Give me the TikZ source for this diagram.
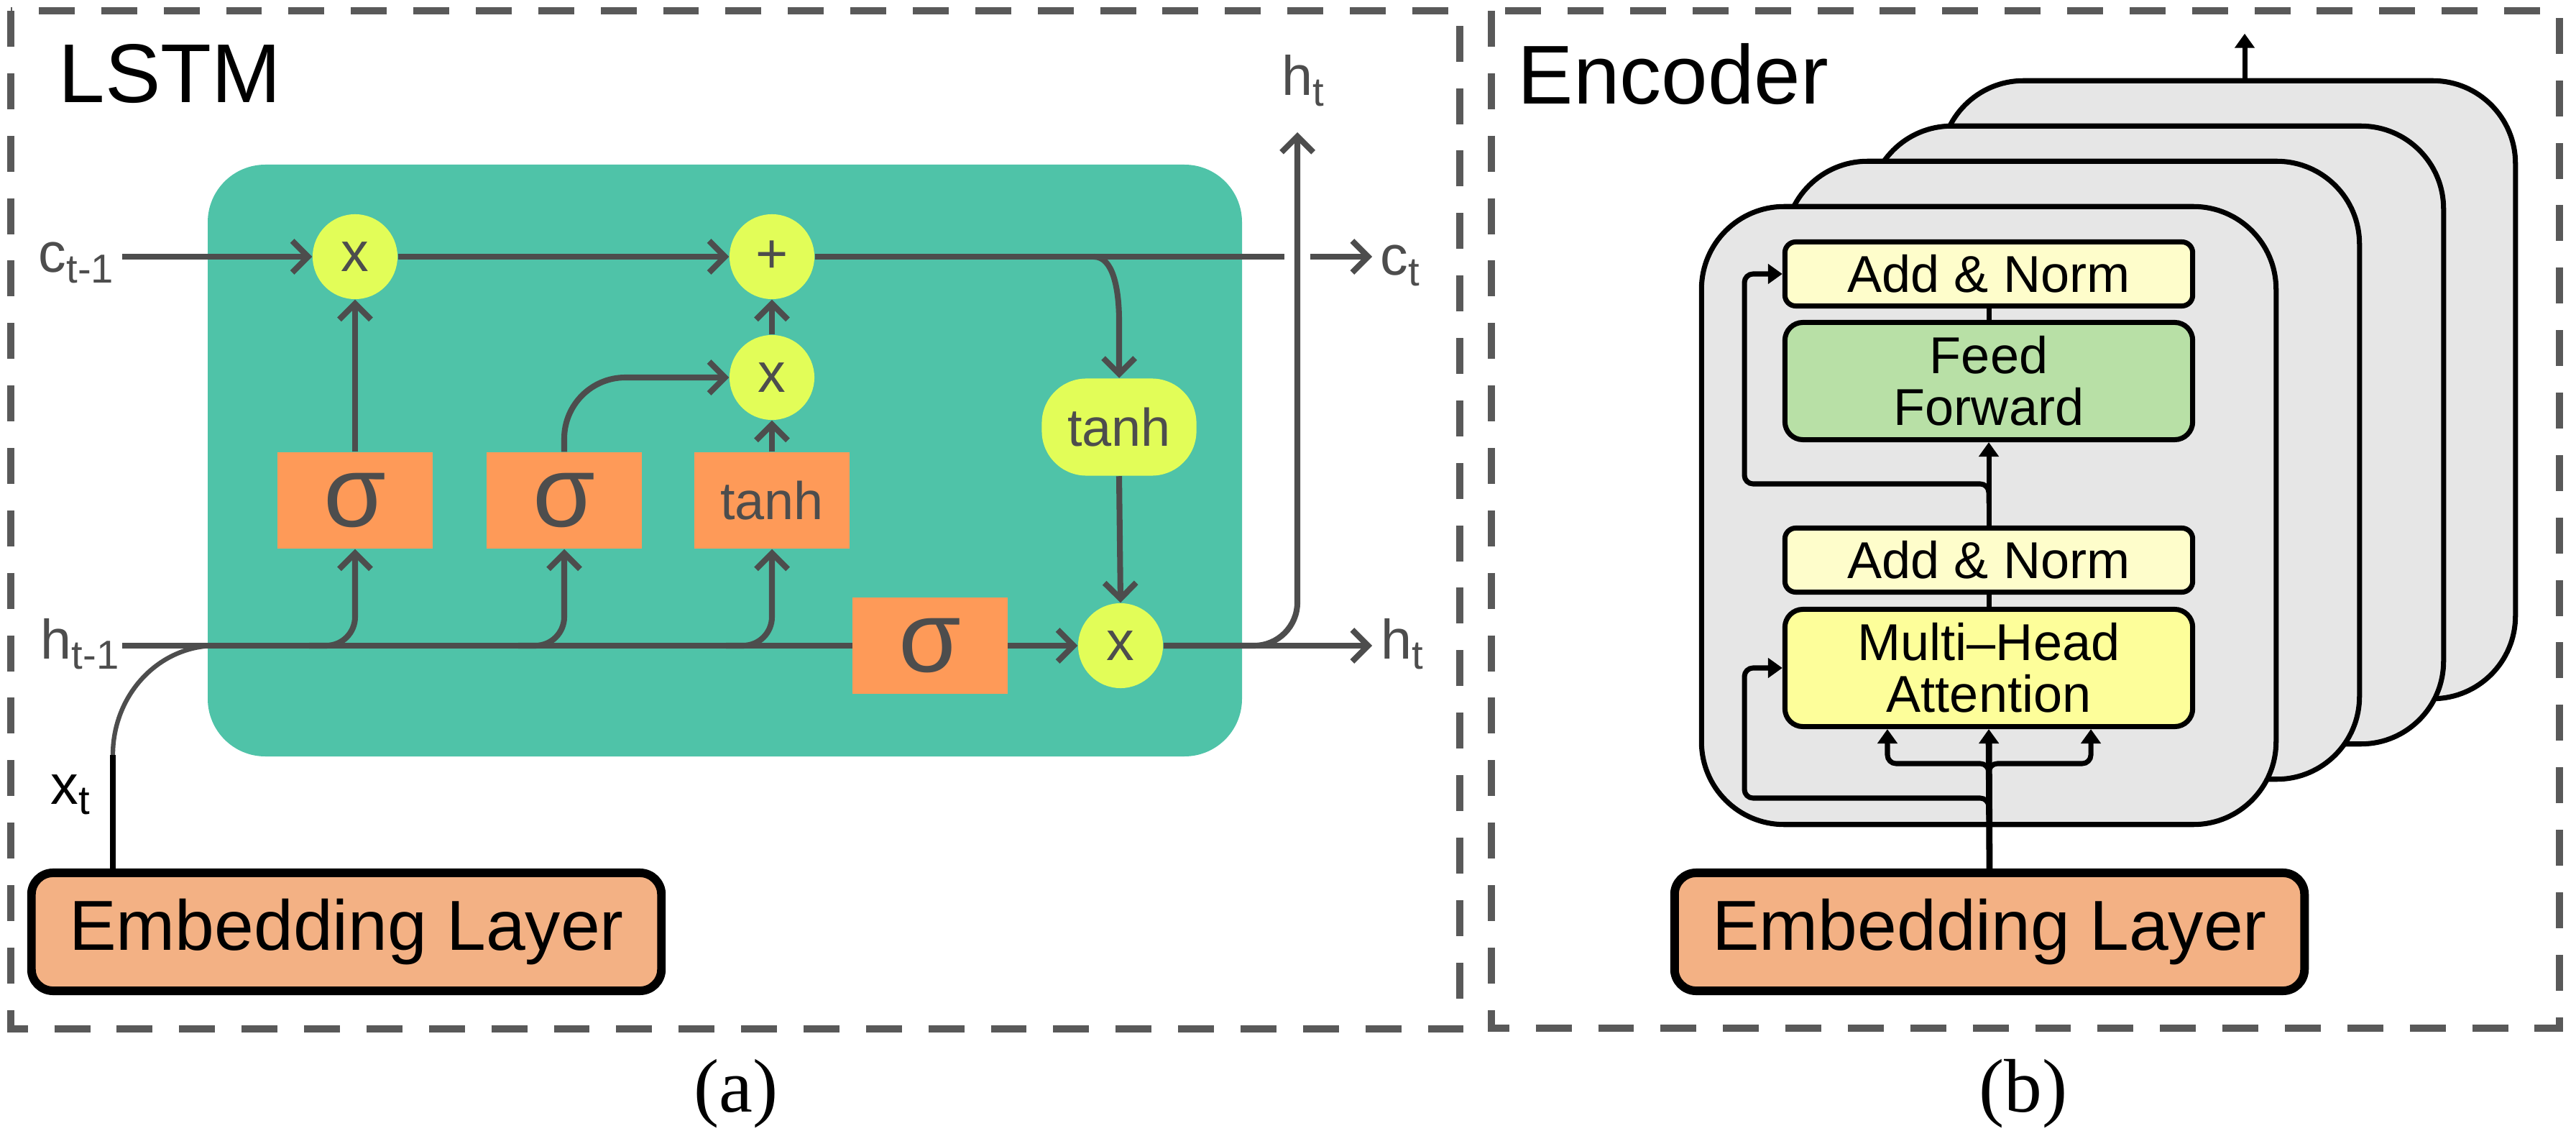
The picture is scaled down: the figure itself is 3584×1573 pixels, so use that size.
\documentclass[tikz,border=0pt]{standalone}
\usepackage{fontspec}
\setmainfont{Liberation Sans}
\newfontfamily\seriffont{Liberation Serif}
\usetikzlibrary{arrows.meta,calc}
\definecolor{teal1}{HTML}{4FC3A8}
\definecolor{orng}{HTML}{FE9A58}
\definecolor{lime}{HTML}{E2FD58}
\definecolor{lg}{HTML}{4D4D4D}
\definecolor{dashc}{HTML}{595959}
\definecolor{embc}{HTML}{F3B184}
\definecolor{encg}{HTML}{E6E6E6}
\definecolor{anc}{HTML}{FEFDCB}
\definecolor{ffc}{HTML}{B8E0A6}
\definecolor{mhac}{HTML}{FDFE9A}
\newcommand\mysub[1]{\raisebox{-4pt}{\fontsize{16}{16}\selectfont #1}}
\begin{document}
\begin{tikzpicture}[x=0.01cm,y=-0.01cm,
  panel/.style={draw=dashc, line width=2.6pt, dash pattern=on 14.2pt off 10.5pt},
  lline/.style={draw=lg, line width=2.3pt},
  barb/.style={-{Straight Barb[length=0.22cm,width=0.44cm]}},
  gate/.style={fill=orng, text=lg, minimum width=2.15cm, minimum height=1.34cm, inner sep=0},
  sig/.style={font=\fontsize{40}{40}\selectfont},
  th/.style={font=\fontsize{21}{21}\selectfont},
  op/.style={circle, fill=lime, text=lg, minimum size=1.18cm, inner sep=0, font=\fontsize{22}{22}\selectfont},
  lbl/.style={text=lg, inner sep=0, anchor=base west, font=\fontsize{22}{22}\selectfont},
  ttl/.style={inner sep=0, anchor=base west, font=\fontsize{33}{33}\selectfont},
  emb/.style={draw=black, line width=3.4pt, fill=embc, rounded corners=0.3cm, minimum width=8.76cm, minimum height=1.64cm, inner sep=0, font=\fontsize{28}{28}\selectfont},
  ebox/.style={draw=black, line width=2pt, fill=encg, rounded corners=1.15cm, minimum width=7.99cm, minimum height=8.59cm, inner sep=0},
  an/.style={draw=black, line width=2pt, fill=anc, rounded corners=0.15cm, minimum width=5.67cm, minimum height=0.89cm, inner sep=0, font=\fontsize{20.5}{20.5}\selectfont},
  big/.style={draw=black, line width=2pt, rounded corners=0.25cm, minimum width=5.67cm, minimum height=1.63cm, inner sep=0, align=center, font=\fontsize{20.5}{20.5}\selectfont},
  encl/.style={draw=black, line width=2pt},
  tri/.style={-{Triangle[length=0.2cm,width=0.27cm]}},
  capstyle/.style={anchor=base, inner sep=0, font=\seriffont\fontsize{30}{30}\selectfont}
]
\useasboundingbox (0,0) rectangle (3584,1573);
% panels
\draw[panel] (15,15) rectangle (2031,1431);
\draw[panel] (2075,15) rectangle (3561,1430);
\node[ttl] (tlstm) at (81,143) {LSTM};
\node[ttl] (tenc) at (2111,145) {Encoder};
\node[capstyle] (capa) at (1024,1546) {(a)};
\node[capstyle] (capb) at (2815,1546) {(b)};

% ---------------- LSTM ----------------
\fill[teal1, rounded corners=0.8cm] (289,229) rectangle (1728,1052);
\node[op] (x1) at (494,357) {x};
\node[op] (pl) at (1074,357) {+};
\node[op] (x2) at (1074,525) {x};
\node[op] (x3) at (1559,898) {x};
\node[gate,sig] (s1) at (494,696) {σ};
\node[gate,sig] (s2) at (785,696) {σ};
\node[gate,th] (tb) at (1074,696) {tanh};
\node[gate,sig] (s3) at (1294,898) {σ};
\node[fill=lime, text=lg, rounded corners=0.62cm, minimum width=2.15cm, minimum height=1.35cm, inner sep=0, th] (te) at (1557,594) {tanh};

\coordinate (cin) at (170,357);
\coordinate (cgapL) at (1787,357);
\coordinate (cgapR) at (1823,357);
\coordinate (ctip) at (1909,357);
\coordinate (csplit) at (1522,357);
\coordinate (hin) at (170,898);
\coordinate (htip) at (1909,898);
\coordinate (htop) at (1805,184);
\coordinate (xt) at (157,1050);
\coordinate (xtend) at (300,898);
\coordinate (br1) at (430,898);
\coordinate (br2) at (721,898);
\coordinate (br3) at (1010,898);

\draw[lline,barb] (cin) -- (x1.west);
\draw[lline,barb] (x1.east) -- (pl.west);
\draw[lline] (pl.east) -- (cgapL);
\draw[lline,barb] (cgapR) -- (ctip);
\draw[lline,barb] (csplit) .. controls (1548,357) and (1557,400) .. (1557,447) -- (te.north);
\draw[lline,barb] (te.south) -- (x3.north);
\draw[lline,barb] (s1.north) -- (x1.south);
\draw[lline,barb,rounded corners=0.85cm] (s2.north) |- (x2.west);
\draw[lline,barb] (tb.north) -- (x2.south);
\draw[lline,barb] (x2.north) -- (pl.south);

\draw[lline] (hin) -- (s3.west);
\draw[lline,barb] (s3.east) -- (x3.west);
\draw[lline,barb] (x3.east) -- (htip);
\draw[lline,barb,rounded corners=0.6cm] (x3.east) -| (htop);
\draw[lline,barb,rounded corners=0.4cm] (br1) -| (s1.south);
\draw[lline,barb,rounded corners=0.4cm] (br2) -| (s2.south);
\draw[lline,barb,rounded corners=0.4cm] (br3) -| (tb.south);

\node[emb] (emb1) at (482,1296) {Embedding Layer};
\draw[black, line width=2pt] (xt |- emb1.north) -- (xt);
\draw[lg, line width=1.8pt] (xt) .. controls (157,966) and (221,898) .. (xtend);

\node[lbl] (lc1) at (53,379) {c\mysub{t-1}};
\node[lbl] (lh1) at (56,916) {h\mysub{t-1}};
\node[lbl] (lht) at (1783,133) {h\mysub{t}};
\node[lbl] (lct) at (1920,383) {c\mysub{t}};
\node[lbl] (lhr) at (1921,916) {h\mysub{t}};
\node[lbl, text=black] (lxt) at (70,1118) {x\mysub{t}};

% ---------------- Encoder ----------------
\node[ebox] (b4) at (3100,542) {};
\node[ebox] (b3) at (3000,605) {};
\node[ebox] (b2) at (2883,654) {};
\node[ebox] (b1) at (2767,717) {};
\draw[encl,tri] ([xshift=0.23cm]b4.north) -- ++(0,-62);

\node[an] (an2) at (2767,381) {Add \& Norm};
\node[big, fill=ffc] (ff) at (2767,530) {Feed\\Forward};
\node[an] (an1) at (2767,779) {Add \& Norm};
\node[big, fill=mhac] (mha) at (2767,929) {Multi–Head\\Attention};
\node[emb] (emb2) at (2768,1296) {Embedding Layer};

\draw[encl] (an2.south) -- (ff.north);
\draw[encl,tri] (an1.north) -- (ff.south);
\draw[encl] (mha.north) -- (an1.south);
\draw[encl,tri,rounded corners=0.12cm] (2767,700) |- (2427,673) |- (an2.west);
\draw[encl,tri,line width=2.5pt] (emb2.north) -- (mha.south);
\draw[encl,tri,rounded corners=0.12cm] (2767,1090) |- (2626,1062) -- ([xshift=-1.41cm]mha.south);
\draw[encl,tri,rounded corners=0.12cm] (2767,1090) |- (2909,1062) -- ([xshift=1.42cm]mha.south);
\draw[encl,tri,rounded corners=0.12cm] (2767,1140) |- (2427,1110) |- (mha.west);
\end{tikzpicture}
\end{document}
